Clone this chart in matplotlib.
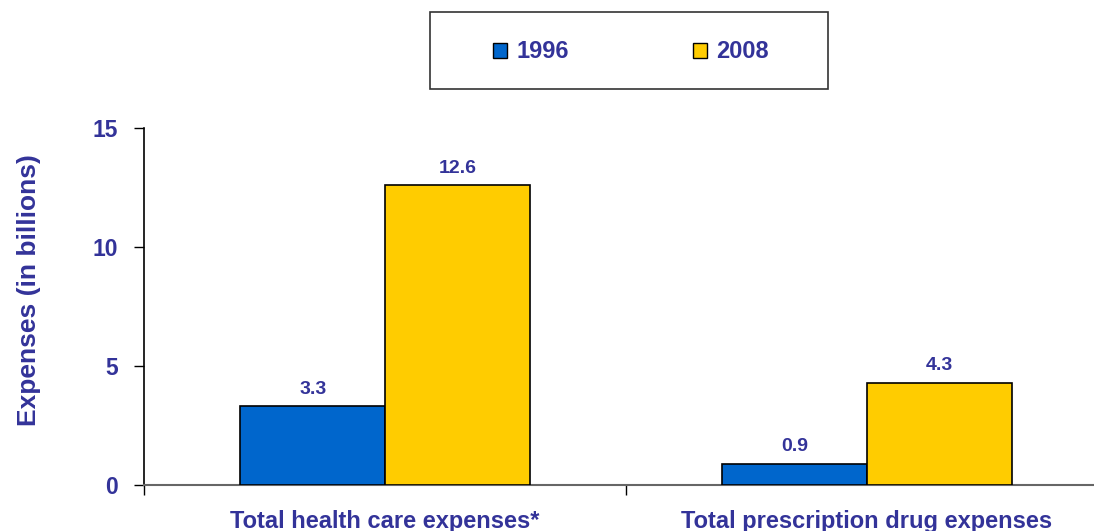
import matplotlib
matplotlib.use("Agg")
import matplotlib.pyplot as plt
from matplotlib.patches import Patch, Rectangle
import numpy as np

categories = ["Total health care expenses*", "Total prescription drug expenses"]
years = ["1996", "2008"]
values_1996 = [3.3, 0.9]
values_2008 = [12.6, 4.3]
yticks = [0, 5, 10, 15]

text_color = "#333399"
colors = ["#0066CC", "#FFCC00"]

plt.rcParams["font.family"] = ["Liberation Sans", "DejaVu Sans"]
plt.rcParams["font.weight"] = "bold"

W, H = 1094, 531
fig = plt.figure(figsize=(W / 100, H / 100), dpi=100)
ax = fig.add_axes([144 / W, (H - 485) / H, 964 / W, (485 - 128) / H])

x = np.arange(len(categories))
width = 0.3
series = [values_1996, values_2008]
for i, (vals, col) in enumerate(zip(series, colors)):
    pos = x + (i - 0.5) * width
    bars = ax.bar(pos, vals, width, color=col, edgecolor="black", linewidth=1.2,
                  align="center", zorder=3)
    for b, v in zip(bars, vals):
        ax.annotate(f"{v:.1f}", (b.get_x() + b.get_width() / 2, v),
                    xytext=(0, 6), textcoords="offset points", ha="center",
                    va="bottom", fontsize=14, fontweight="bold", color=text_color)

ax.set_xlim(-0.5, len(categories) - 0.5)
ax.set_ylim(0, 15)
ax.set_yticks(yticks)
ax.set_yticklabels([str(t) for t in yticks], fontsize=16.5, fontweight="bold",
                   color=text_color)
ax.tick_params(axis="y", direction="out", length=7, width=1, pad=12)

ax.set_xticks(x)
ax.set_xticklabels(categories, fontsize=17, fontweight="bold", color=text_color)
ax.tick_params(axis="x", which="major", length=0, pad=18)
ax.set_xticks(np.arange(-0.5, len(categories), 1.0), minor=True)
ax.tick_params(axis="x", which="minor", direction="out", length=7, width=1)

ax.set_ylabel("Expenses (in billions)", fontsize=19, fontweight="bold",
              color=text_color)
ax.yaxis.set_label_coords(-103 / 964, (485 - 290) / (485 - 128))

for s in ["top", "right"]:
    ax.spines[s].set_visible(False)
ax.spines["left"].set_color("black")
ax.spines["left"].set_linewidth(1.2)
ax.spines["bottom"].set_color("#666666")
ax.spines["bottom"].set_linewidth(1.5)

# legend box
fig.patches.append(Rectangle((430 / W, (H - 89) / H), 398 / W, 77 / H,
                             transform=fig.transFigure, facecolor="white",
                             edgecolor="#333333", linewidth=1.2))
handles = [Patch(facecolor=c, edgecolor="black", linewidth=1) for c in colors]
leg = fig.legend(handles, years, loc="center", bbox_to_anchor=(631 / W, (H - 52) / H),
                 ncol=2, frameon=False, handlelength=0.6, handleheight=0.6,
                 handletextpad=0.4, columnspacing=5.25,
                 prop={"size": 17, "weight": "bold"})
for t in leg.get_texts():
    t.set_color(text_color)

fig.savefig("out.png", dpi=100)
